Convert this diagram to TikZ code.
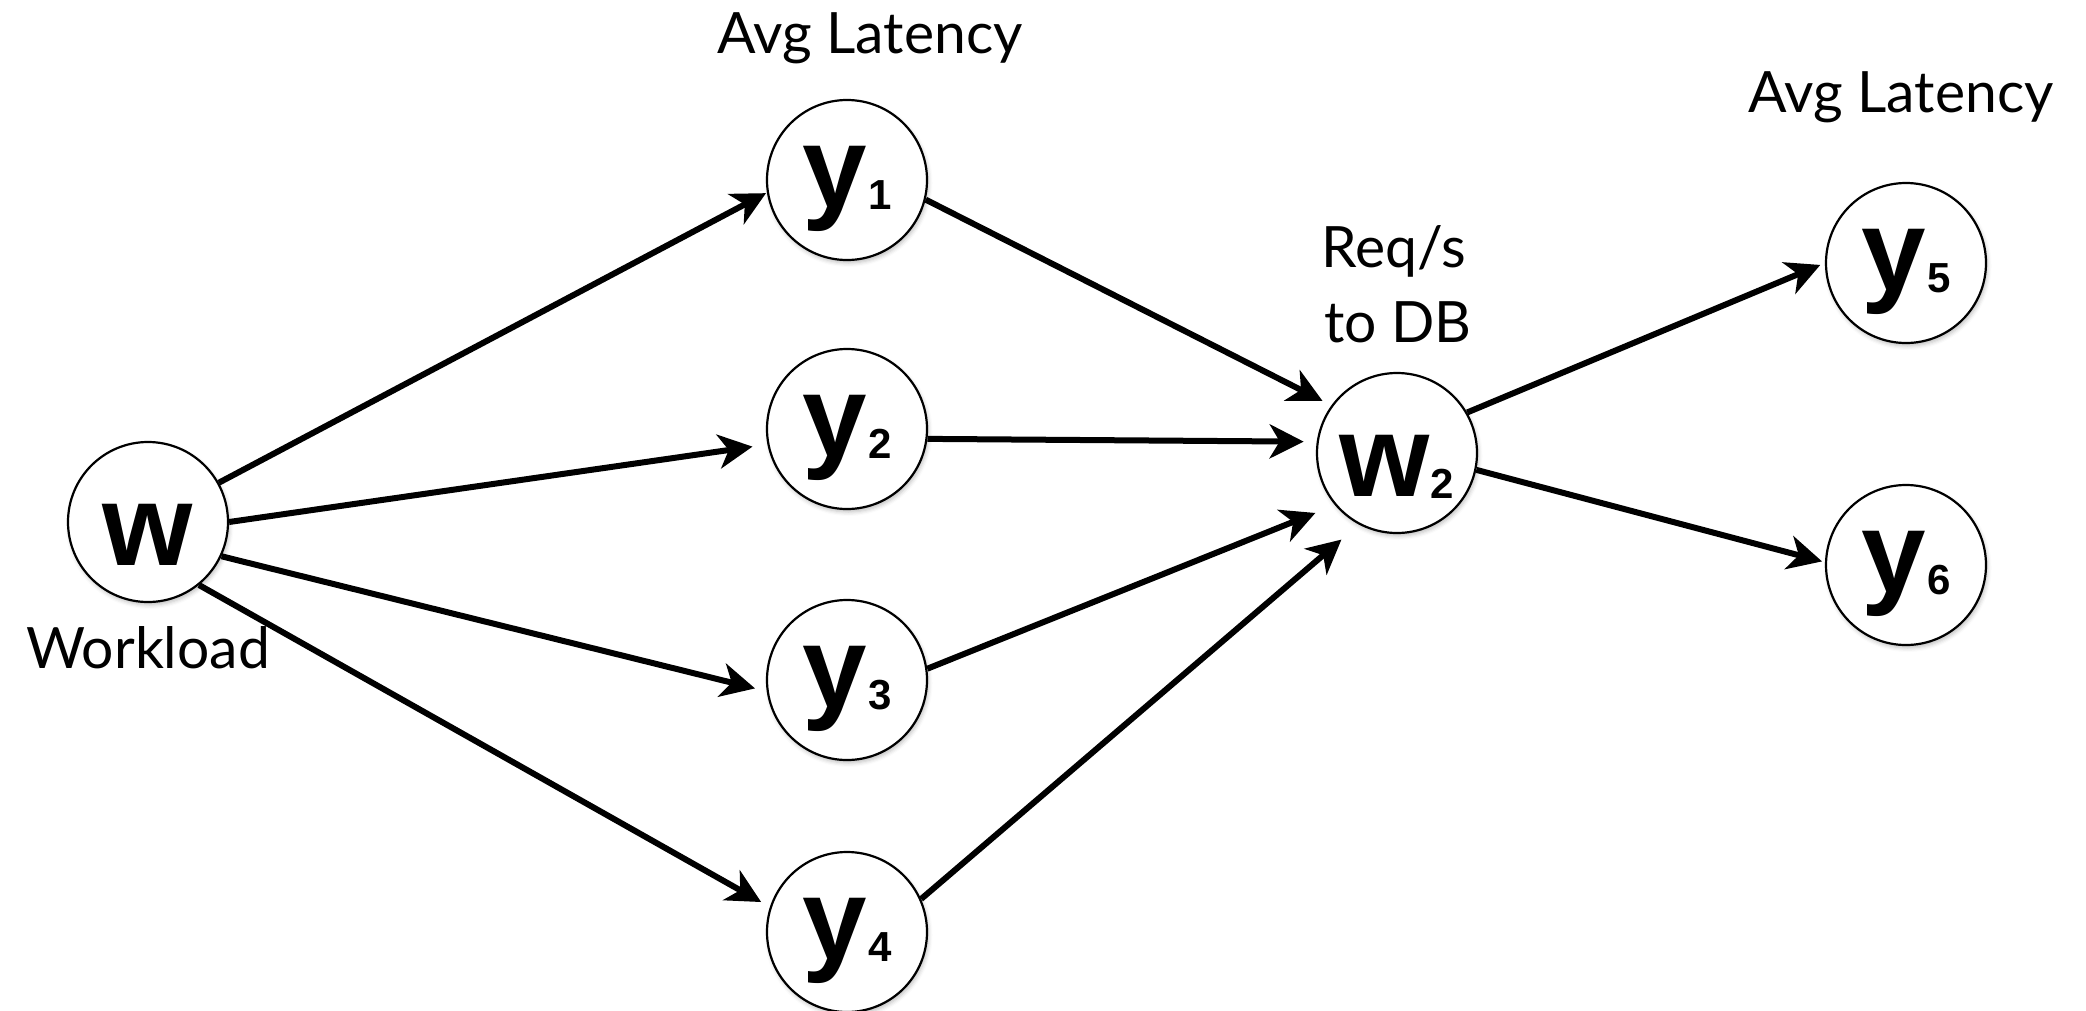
\documentclass[tikz,border=0pt]{standalone}
\usepackage{fontspec}
\setmainfont{Lato}
\newfontfamily\symfont{Liberation Sans}
\usetikzlibrary{arrows.meta,shadows.blur}

% variable letters and their subscripts
\newcommand\bigsym[1]{{\fontsize{116}{116}\selectfont #1}}
\newcommand\subsym[1]{{\fontsize{42}{42}\selectfont\kern1pt\raisebox{-2pt}{#1}}}

\tikzset{
  var/.style={circle, draw=black, line width=2.2pt, fill=white,
    minimum size=160pt, inner sep=0pt, font=\symfont\bfseries,
    blur shadow={shadow xshift=1.5pt, shadow yshift=-3pt,
      shadow opacity=25, shadow blur radius=4pt}},
  wvar/.style={var, text height=86pt, text depth=0pt},
  yvar/.style={var, text height=54pt, text depth=0pt},
  link/.style={line width=6pt, -{Stealth[length=34pt,width=34pt,inset=10pt]}},
  caption/.style={font=\fontsize{57}{66}\selectfont, anchor=base, inner sep=0pt},
}

\begin{document}
\begin{tikzpicture}[x=1pt, y=-1pt]
  \useasboundingbox (0,0) rectangle (2086,1010);

  % nodes
  \node[wvar] (w)  at (148,522)  {\bigsym{w}};
  \node[yvar] (y1) at (847,180)  {\bigsym{y}\subsym{1}};
  \node[yvar] (y2) at (847,429)  {\bigsym{y}\subsym{2}};
  \node[yvar] (y3) at (847,680)  {\bigsym{y}\subsym{3}};
  \node[yvar] (y4) at (847,932)  {\bigsym{y}\subsym{4}};
  \node[wvar] (w2) at (1397,453) {\bigsym{w}\subsym{2}};
  \node[yvar] (y5) at (1906,263) {\bigsym{y}\subsym{5}};
  \node[yvar] (y6) at (1906,565) {\bigsym{y}\subsym{6}};

  % captions
  \node[caption] (cap1) at (870,53)   {Avg Latency};
  \node[caption] (cap2) at (1901,112) {Avg Latency};
  \node[caption] (cap3) at (1394,267) {Req/s};
  \node[caption] (cap4) at (1398,342) {to DB};
  \node[caption] (cap5) at (148,668)  {Workload};

  % edges
  \draw[link, shorten >=1pt]  (w.29.7) -- (y1.189);
  \draw[link, shorten >=15pt] (w.0)    -- (y2.191);
  \draw[link, shorten >=12pt] (w.-25)  -- (y3.188);
  \draw[link, shorten >=10pt] (w.-51)  -- (y4.162.5);
  \draw[link, shorten >=10pt] (y1.-14) -- (w2.144.5);
  \draw[link, shorten >=13pt] (y2.-7)  -- (w2.172);
  \draw[link, shorten >=21pt] (y3.8)   -- (w2.220);
  \draw[link, shorten >=23pt] (y4.24)  -- (w2.242.5);
  \draw[link, shorten >=5pt]  (w2.30)  -- (y5.180);
  \draw[link, shorten >=3pt]  (w2.-12) -- (y6.178);
\end{tikzpicture}
\end{document}
